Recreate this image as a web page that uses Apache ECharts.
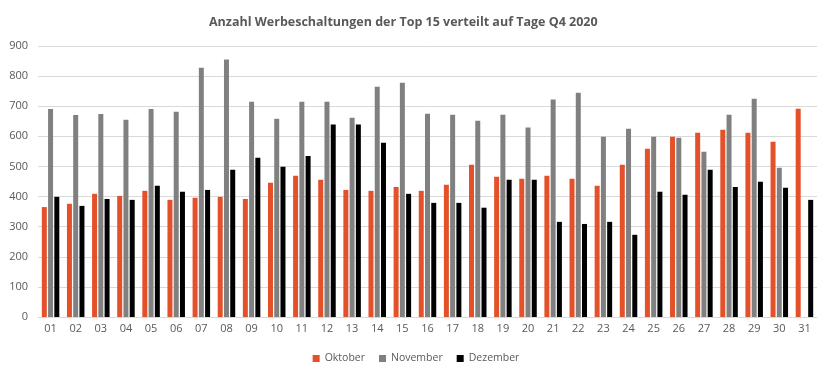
<!DOCTYPE html>
<html><head><meta charset="utf-8">
<script src="https://cdn.jsdelivr.net/npm/echarts@6/dist/echarts.min.js"></script>
<style>html,body{margin:0;padding:0;background:#fff}#c{width:832px;height:379px}</style>
</head><body><div id="c"></div>
<script>
const categories = ['01','02','03','04','05','06','07','08','09','10','11','12','13','14','15','16','17','18','19','20','21','22','23','24','25','26','27','28','29','30','31'];
const oktober  = [365,376,409,402,419,389,396,399,392,446,469,456,422,419,432,419,439,506,466,459,469,459,436,506,559,599,612,622,612,582,692];
const november = [691,671,674,655,691,682,828,855,715,658,715,715,662,765,778,675,672,652,672,629,722,745,599,625,599,595,549,672,725,496,null];
const dezember = [399,369,392,389,436,416,422,489,529,499,535,639,639,579,409,379,379,363,456,456,316,309,316,273,416,406,489,432,449,429,389];
const yTicks = {min:0, max:900, interval:100};

const chart = echarts.init(document.getElementById('c'));
const font = '"Open Sans", "Liberation Sans", sans-serif';
const mk = (name, data, color) => ({name, type:'bar', data, barWidth:5, barGap:'25%', itemStyle:{color}});
chart.setOption({
  animation:false,
  title:{text:'Anzahl Werbeschaltungen der Top 15 verteilt auf Tage Q4 2020', left:204, top:11,
    textStyle:{fontFamily:font, fontSize:12.5, fontWeight:'bold', color:'#595959'}},
  grid:{left:38, right:15, top:46, bottom:62},
  legend:{bottom:10, left:'center', itemWidth:7, itemHeight:7, itemGap:14, icon:'rect',
    textStyle:{fontFamily:font, fontSize:10.5, color:'#595959'}},
  xAxis:{type:'category', data:categories,
    axisLine:{lineStyle:{color:'#d9d9d9'}}, axisTick:{show:false},
    axisLabel:{fontFamily:font, fontSize:11, color:'#595959', margin:6}},
  yAxis:{type:'value', min:yTicks.min, max:yTicks.max, interval:yTicks.interval,
    splitLine:{lineStyle:{color:'#d9d9d9'}}, axisLine:{show:false}, axisTick:{show:false},
    axisLabel:{fontFamily:font, fontSize:11, color:'#595959', margin:10}},
  series:[mk('Oktober', oktober, '#E3502A'), mk('November', november, '#808080'), mk('Dezember', dezember, '#000000')]
});
</script></body></html>
